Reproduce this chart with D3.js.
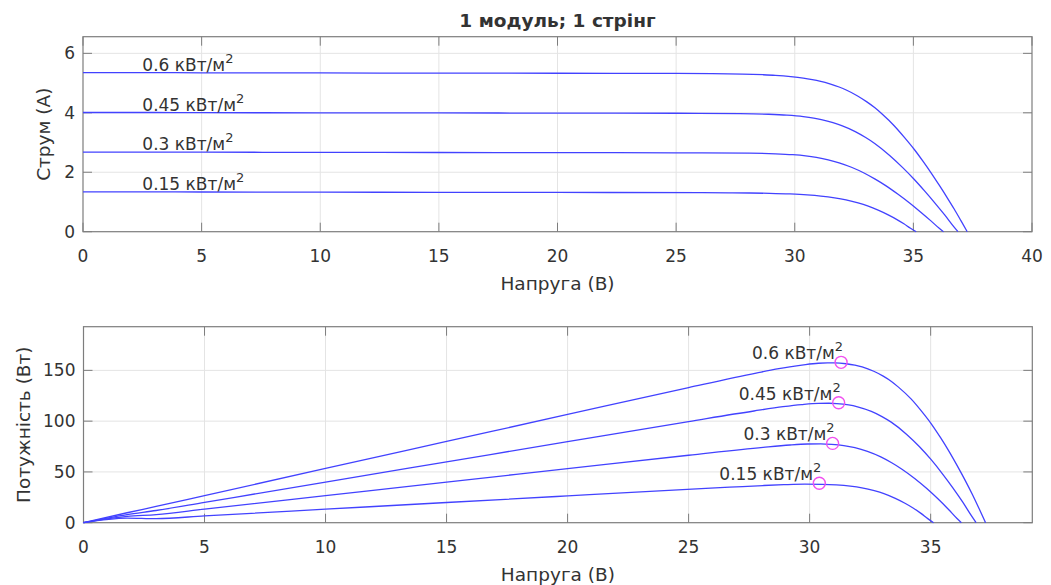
<!DOCTYPE html>
<html>
<head>
<meta charset="utf-8">
<script src="https://cdn.jsdelivr.net/npm/d3@7"></script>
<style>
  html, body { margin: 0; padding: 0; background: #ffffff; }
  svg { display: block; }
  text { font-family: "DejaVu Sans", "Liberation Sans", sans-serif; fill: #333333; }
</style>
</head>
<body>
<svg id="chart" width="1051" height="585"></svg>
<script>
// Irradiance levels (kW/m²) for the four curves
const irradiance = ["0.6", "0.45", "0.3", "0.15"];

// 0.6 kW/m²: voltage (V), current (A), power (W)
const voltage06 = [0, 1.8, 3, 5, 10, 15, 20, 25, 27.79, 28.66, 29.18, 29.83, 30.36, 30.74, 31.05, 31.51, 31.87, 32.17, 32.65, 33.04, 33.38, 33.67, 34.19, 34.63, 35.04, 35.41, 35.76, 36.09, 36.41, 36.72, 37.01, 37.27];
const current06 = [5.35, 5.35, 5.35, 5.345, 5.34, 5.335, 5.33, 5.324, 5.302, 5.281, 5.261, 5.22, 5.17, 5.119, 5.069, 4.968, 4.868, 4.768, 4.567, 4.367, 4.167, 3.966, 3.566, 3.165, 2.765, 2.365, 1.964, 1.564, 1.164, 0.763, 0.363, 0];
const power06   = [0, 9.8, 16.0, 26.7, 53.4, 80.0, 106.6, 133.1, 147.3, 151.4, 153.5, 155.7, 157.0, 157.4, 157.4, 156.5, 155.1, 153.4, 149.1, 144.3, 139.1, 133.5, 121.9, 109.6, 96.9, 83.7, 70.2, 56.4, 42.4, 28.0, 13.4, 0];

// 0.45 kW/m²
const voltage045 = [0, 1.8, 3, 5, 10, 15, 20, 25, 27.70, 28.90, 29.67, 30.36, 30.80, 31.12, 31.61, 31.98, 32.55, 32.99, 33.37, 34.00, 34.54, 35.03, 35.48, 35.91, 36.32, 36.71, 36.88];
const current045 = [4.01, 4.01, 4.01, 4.005, 4.0, 3.995, 3.99, 3.985, 3.972, 3.951, 3.92, 3.87, 3.819, 3.769, 3.668, 3.568, 3.367, 3.167, 2.967, 2.566, 2.165, 1.765, 1.365, 0.964, 0.564, 0.163, 0];
const power045   = [0, 8.0, 12.0, 20.0, 40.0, 59.9, 79.8, 99.6, 110.0, 114.2, 116.3, 117.5, 117.6, 117.3, 116.0, 114.1, 109.6, 104.5, 99.0, 87.2, 74.8, 61.8, 48.4, 34.6, 20.5, 6.0, 0];

// 0.3 kW/m²
const voltage03 = [0, 1.8, 3, 5, 10, 15, 20, 25, 28.08, 29.19, 29.91, 30.46, 30.91, 31.41, 31.87, 32.39, 32.94, 33.39, 33.80, 34.34, 34.84, 35.30, 35.74, 36.09, 36.27];
const current03 = [2.68, 2.68, 2.68, 2.675, 2.67, 2.665, 2.66, 2.655, 2.642, 2.621, 2.59, 2.55, 2.499, 2.419, 2.318, 2.168, 1.967, 1.767, 1.566, 1.266, 0.965, 0.665, 0.364, 0.114, 0];
const power03   = [0, 6.2, 8.0, 13.4, 26.7, 40.0, 53.2, 66.4, 74.2, 76.5, 77.5, 77.7, 77.2, 76.0, 73.9, 70.2, 64.8, 59.0, 52.9, 43.5, 33.6, 23.5, 13.0, 4.1, 0];

// 0.15 kW/m²
const voltage015 = [0, 1.8, 3, 5, 10, 15, 20, 26.10, 27.23, 28.08, 28.94, 29.80, 30.52, 31.10, 31.68, 32.16, 32.67, 33.07, 33.54, 33.94, 34.29, 34.60, 34.88, 35.12];
const current015 = [1.34, 1.34, 1.34, 1.335, 1.33, 1.325, 1.32, 1.312, 1.308, 1.302, 1.291, 1.27, 1.239, 1.199, 1.138, 1.068, 0.967, 0.867, 0.716, 0.566, 0.416, 0.265, 0.115, 0];
const power015   = [0, 4.6, 4.0, 6.7, 13.3, 19.9, 26.4, 34.2, 35.6, 36.6, 37.4, 37.9, 37.8, 37.3, 36.1, 34.4, 31.6, 28.7, 24.0, 19.2, 14.3, 9.2, 4.0, 0];

// Maximum power points
const mppVoltage = [31.3, 31.2, 30.95, 30.4];
const mppPower   = [157.9, 118.1, 78.1, 38.8];

// Axis ticks
const ivTicksX = [0, 5, 10, 15, 20, 25, 30, 35, 40];
const ivTicksY = [0, 2, 4, 6];
const pvTicksX = [0, 5, 10, 15, 20, 25, 30, 35];
const pvTicksY = [0, 50, 100, 150];

const voltages = [voltage06, voltage045, voltage03, voltage015];
const currents = [current06, current045, current03, current015];
const powers = [power06, power045, power03, power015];

const svg = d3.select("#chart");
const lineColor = "#4242ff";
const boxColor = "#7d7d7d";
const gridColor = "#e4e4e4";
const tickLen = 9;

function drawAxes(cfg) {
  const { x, y, ticksX, ticksY, xLabel, yLabel, yLabelX } = cfg;
  const [x0, x1] = x.range();
  const [y0, y1] = y.range(); // y0 bottom, y1 top
  const g = svg.append("g");

  // grid
  g.append("g").selectAll("line").data(ticksX.filter(t => x(t) > x0 + 1 && x(t) < x1 - 1)).join("line")
    .attr("x1", d => x(d)).attr("x2", d => x(d)).attr("y1", y0).attr("y2", y1)
    .attr("stroke", gridColor).attr("stroke-width", 1);
  g.append("g").selectAll("line").data(ticksY.filter(t => y(t) < y0 - 1 && y(t) > y1 + 1)).join("line")
    .attr("x1", x0).attr("x2", x1).attr("y1", d => y(d)).attr("y2", d => y(d))
    .attr("stroke", gridColor).attr("stroke-width", 1);

  // inward ticks on all four sides
  const ticks = g.append("g").attr("stroke", boxColor).attr("stroke-width", 1);
  ticksX.forEach(t => {
    ticks.append("line").attr("x1", x(t)).attr("x2", x(t)).attr("y1", y0).attr("y2", y0 - tickLen);
    ticks.append("line").attr("x1", x(t)).attr("x2", x(t)).attr("y1", y1).attr("y2", y1 + tickLen);
  });
  ticksY.forEach(t => {
    ticks.append("line").attr("x1", x0).attr("x2", x0 + tickLen).attr("y1", y(t)).attr("y2", y(t));
    ticks.append("line").attr("x1", x1).attr("x2", x1 - tickLen).attr("y1", y(t)).attr("y2", y(t));
  });

  // box
  g.append("rect").attr("x", x0).attr("y", y1).attr("width", x1 - x0).attr("height", y0 - y1)
    .attr("fill", "none").attr("stroke", boxColor).attr("stroke-width", 1.2);

  // tick labels
  g.append("g").selectAll("text").data(ticksX).join("text")
    .attr("x", d => x(d)).attr("y", y0 + 30).attr("text-anchor", "middle")
    .attr("font-size", 17).text(d => d);
  g.append("g").selectAll("text").data(ticksY).join("text")
    .attr("x", x0 - 8).attr("y", d => y(d) + 6).attr("text-anchor", "end")
    .attr("font-size", 17).text(d => d);

  // axis titles
  g.append("text").attr("x", (x0 + x1) / 2).attr("y", y0 + 58).attr("text-anchor", "middle")
    .attr("font-size", 18.5).text(xLabel);
  g.append("text").attr("transform", `translate(${yLabelX},${(y0 + y1) / 2}) rotate(-90)`)
    .attr("text-anchor", "middle").attr("font-size", 18.5).text(yLabel);
}

function irradianceLabel(sel, value) {
  sel.append("tspan").text(value + " кВт/м");
  sel.append("tspan").attr("dy", -8).attr("font-size", 13).text("2");
}

// ---- Current–voltage plot ----
const xIV = d3.scaleLinear().domain([0, 40]).range([83, 1032]);
const yIV = d3.scaleLinear().domain([0, 6.56]).range([231.7, 36.7]);

drawAxes({ x: xIV, y: yIV, ticksX: ivTicksX, ticksY: ivTicksY,
  xLabel: "Напруга (В)", yLabel: "Струм (А)", yLabelX: 50 });

const ivLine = d3.line().x(d => xIV(d[0])).y(d => yIV(d[1])).curve(d3.curveMonotoneX);
const ivG = svg.append("g");
currents.forEach((c, k) => {
  ivG.append("path").datum(c.map((v, i) => [voltages[k][i], v]))
    .attr("d", ivLine).attr("fill", "none").attr("stroke", lineColor).attr("stroke-width", 1.3);
  const t = ivG.append("text").attr("x", xIV(2.5)).attr("y", yIV(c[0]) - 2)
    .attr("font-size", 17).attr("text-anchor", "start");
  irradianceLabel(t, irradiance[k]);
});

svg.append("text").attr("x", (xIV.range()[0] + xIV.range()[1]) / 2).attr("y", 27)
  .attr("text-anchor", "middle").attr("font-size", 18.5).attr("font-weight", "bold")
  .attr("fill", "#1a1a1a").text("1 модуль; 1 стрінг");

// ---- Power–voltage plot ----
const xPV = d3.scaleLinear().domain([0, 39.2]).range([83.5, 1032.3]);
const yPV = d3.scaleLinear().domain([0, 193]).range([522.7, 326.7]);

drawAxes({ x: xPV, y: yPV, ticksX: pvTicksX, ticksY: pvTicksY,
  xLabel: "Напруга (В)", yLabel: "Потужність (Вт)", yLabelX: 30 });

const pvLine = d3.line().x(d => xPV(d[0])).y(d => yPV(d[1])).curve(d3.curveMonotoneX);
const pvG = svg.append("g");
powers.forEach((p, k) => {
  pvG.append("path").datum(p.map((v, i) => [voltages[k][i], v]))
    .attr("d", pvLine).attr("fill", "none").attr("stroke", lineColor).attr("stroke-width", 1.3);
});
mppVoltage.forEach((v, k) => {
  pvG.append("circle").attr("cx", xPV(v)).attr("cy", yPV(mppPower[k])).attr("r", 6)
    .attr("fill", "none").attr("stroke", "#f050f0").attr("stroke-width", 1.4);
  const t = pvG.append("text").attr("x", xPV(v) + 2).attr("y", yPV(mppPower[k]) - 3)
    .attr("font-size", 17).attr("text-anchor", "end");
  irradianceLabel(t, irradiance[k]);
});
</script>
</body>
</html>
